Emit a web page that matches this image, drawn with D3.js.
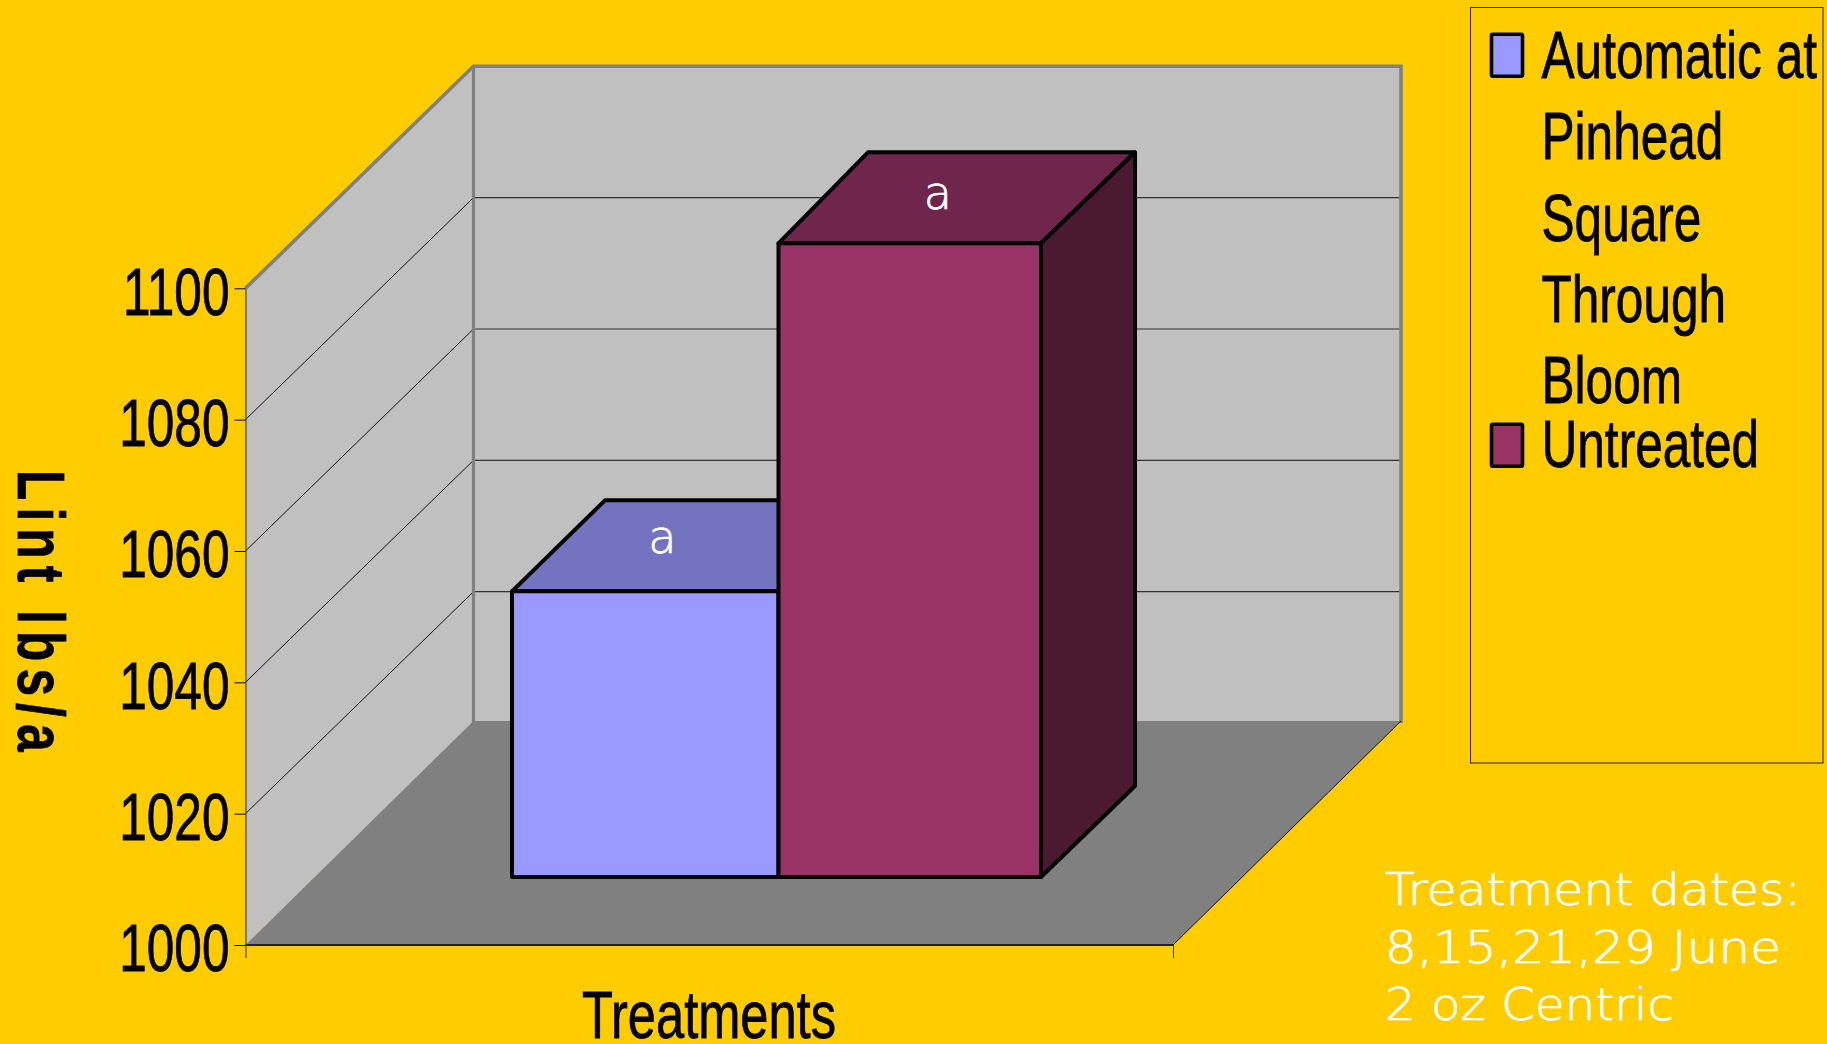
<!DOCTYPE html>
<html>
<head>
<meta charset="utf-8">
<script src="https://cdn.jsdelivr.net/npm/d3@7/dist/d3.min.js"></script>
<style>
  html, body { margin: 0; padding: 0; background: #FFCC00; overflow: hidden; }
  svg { display: block; }
</style>
</head>
<body>
<script>
// Lint yield by treatment
const categories = ["Automatic at Pinhead Square Through Bloom", "Untreated"];
const values = [1043.5, 1096.5];
const sigLetters = ["a", "a"];
const yTicks = [1000, 1020, 1040, 1060, 1080, 1100];
const legendLines = [["Automatic at", "Pinhead", "Square", "Through", "Bloom"], ["Untreated"]];
const noteLines = ["Treatment dates:", "8,15,21,29 June", "2 oz Centric"];
const frontColors = ["#9999FF", "#993366"];
const topColors = ["#7373BF", "#70264C"];
const sideColors = ["#4C1933", "#4C1933"];

const W = 1827, H = 1044;
const svg = d3.select("body").append("svg").attr("width", W).attr("height", H);
svg.append("rect").attr("width", W).attr("height", H).attr("fill", "#FFCC00");

// Oblique projection: the back wall sits up and to the right of the front plane
const y = d3.scaleLinear().domain([1000, 1100]).range([945, 288.3]);
const floorX = d3.scaleLinear().domain([0, 1]).range([245.5, 1173]);
const wallDx = 228, wallDy = 222, floorDy = 224;
const barOffsetY = 68, barDy = 91;
const barEdge = d3.scaleLinear().domain([0, 1, 2]).range([512, 778.5, 1041]);
const barBack = d3.scaleLinear().domain([0, 1, 2]).range([605, 868, 1135]);
const labelShift = [17, 28];
const labelRise = [38.5, 34];

const SANS = "'Liberation Sans', Arial, sans-serif";
const poly = pts => pts.map(p => p.join(",")).join(" ");
const x0 = floorX(0), x1 = floorX(1);
const yMin = y(1000), yMax = y(1100);

// Chart walls and floor
svg.append("polygon")
  .attr("points", poly([[x0, yMin], [x0 + wallDx, yMin - wallDy], [x0 + wallDx, yMax - wallDy], [x0, yMax]]))
  .attr("fill", "#C0C0C0");
svg.append("polygon")
  .attr("points", poly([[x0 + wallDx, yMin - wallDy], [x1 + wallDx, yMin - wallDy], [x1 + wallDx, yMax - wallDy], [x0 + wallDx, yMax - wallDy]]))
  .attr("fill", "#C0C0C0");

// Gridlines run along the side wall and then across the back wall
const inner = yTicks.slice(1, -1);
svg.append("g").selectAll("line").data(inner).join("line")
  .attr("x1", x0).attr("y1", d => y(d))
  .attr("x2", x0 + wallDx).attr("y2", d => y(d) - wallDy)
  .attr("stroke", "#111").attr("stroke-width", 1);
svg.append("g").selectAll("line").data(inner).join("line")
  .attr("x1", x0 + wallDx).attr("y1", d => y(d) - wallDy)
  .attr("x2", x1 + wallDx).attr("y2", d => y(d) - wallDy)
  .attr("stroke", "#333").attr("stroke-width", 1.2);

// Wall outline
svg.append("polyline")
  .attr("points", poly([[x0, yMax], [x0 + wallDx, yMax - wallDy], [x1 + wallDx, yMax - wallDy], [x1 + wallDx, yMin - wallDy]]))
  .attr("fill", "none").attr("stroke", "#808080").attr("stroke-width", 3.6);
svg.append("line")
  .attr("x1", x0 + wallDx).attr("y1", yMax - wallDy)
  .attr("x2", x0 + wallDx).attr("y2", yMin - wallDy)
  .attr("stroke", "#808080").attr("stroke-width", 3.2);

// Floor and its edges
svg.append("polygon")
  .attr("points", poly([[x0, yMin], [x1, yMin], [x1 + wallDx, yMin - floorDy], [x0 + wallDx, yMin - floorDy]]))
  .attr("fill", "#808080");
svg.append("line").attr("x1", x0).attr("y1", yMin).attr("x2", x1).attr("y2", yMin)
  .attr("stroke", "#222").attr("stroke-width", 2);
svg.append("line").attr("x1", x1).attr("y1", yMin).attr("x2", x1 + wallDx).attr("y2", yMin - floorDy)
  .attr("stroke", "#111").attr("stroke-width", 1);

// Value axis
const axis = d3.axisLeft(y).tickValues(yTicks).tickSize(11).tickSizeOuter(0).tickFormat(d3.format("d"));
const axisG = svg.append("g").attr("transform", `translate(${x0},0)`).call(axis);
axisG.select(".domain").attr("stroke", "#333").attr("stroke-width", 1);
axisG.selectAll(".tick line").attr("stroke", "#000").attr("stroke-width", 1);
axisG.selectAll(".tick text")
  .attr("x", 0).attr("dy", 0).attr("y", 0)
  .attr("text-anchor", "end")
  .attr("transform", "translate(-16,25.8) scale(0.74,1)")
  .attr("font-family", SANS).attr("font-size", 67)
  .attr("fill", "#000").attr("stroke", "#000").attr("stroke-width", 0.8);

// Category axis ticks drop below the floor corners
const xAxis = d3.axisBottom(floorX).tickValues([0, 1]).tickSize(13).tickSizeOuter(0).tickFormat("");
const xAxisG = svg.append("g").attr("transform", `translate(0,${yMin})`).call(xAxis);
xAxisG.select(".domain").attr("stroke", "none");
xAxisG.selectAll(".tick line").attr("stroke", "#333").attr("stroke-width", 1);

// Bars, drawn back to front so the taller box overlaps the shorter one
const barData = values.map((v, i) => ({ v, i }));
const bars = svg.append("g").selectAll("g").data(barData).join("g")
  .attr("stroke", "#000").attr("stroke-width", 4).attr("stroke-linejoin", "round");
const bottom = yMin - barOffsetY;
const barTop = v => y(v) - barOffsetY;
bars.append("polygon")
  .attr("points", d => poly([[barEdge(d.i), barTop(d.v)], [barEdge(d.i + 1), barTop(d.v)], [barBack(d.i + 1), barTop(d.v) - barDy], [barBack(d.i), barTop(d.v) - barDy]]))
  .attr("fill", d => topColors[d.i]);
bars.append("polygon")
  .attr("points", d => poly([[barEdge(d.i + 1), barTop(d.v)], [barBack(d.i + 1), barTop(d.v) - barDy], [barBack(d.i + 1), bottom - barDy], [barEdge(d.i + 1), bottom]]))
  .attr("fill", d => sideColors[d.i]);
bars.append("rect")
  .attr("x", d => barEdge(d.i)).attr("y", d => barTop(d.v))
  .attr("width", d => barEdge(d.i + 1) - barEdge(d.i))
  .attr("height", d => bottom - barTop(d.v))
  .attr("fill", d => frontColors[d.i]);

// Significance letters on the box tops
const LIGHT = "'DejaVu Sans', Verdana, sans-serif";
svg.append("g").selectAll("text").data(barData).join("text")
  .attr("x", d => (barEdge(d.i) + barEdge(d.i + 1)) / 2 + labelShift[d.i])
  .attr("y", d => barTop(d.v) - labelRise[d.i])
  .attr("text-anchor", "middle")
  .attr("font-family", LIGHT).attr("font-weight", 200).attr("font-size", 46)
  .attr("fill", "#fff").attr("stroke", "#fff").attr("stroke-width", 0.7)
  .text(d => sigLetters[d.i]);

// Axis titles
svg.append("text")
  .attr("transform", "translate(582,1037.5) scale(0.755,1)")
  .attr("font-family", SANS).attr("font-size", 67)
  .attr("fill", "#000").attr("stroke", "#000").attr("stroke-width", 0.8)
  .text("Treatments");
svg.append("text")
  .attr("transform", "translate(18,470) rotate(90) scale(0.74,1)")
  .attr("font-family", SANS).attr("font-weight", 700).attr("font-size", 67)
  .attr("letter-spacing", 9.6).style("font-kerning", "none")
  .attr("fill", "#000").attr("stroke", "#000").attr("stroke-width", 0.8)
  .text("Lint lbs/a");

// Legend
svg.append("rect")
  .attr("x", 1470.5).attr("y", 7.5).attr("width", 352.5).attr("height", 755.5)
  .attr("fill", "none").attr("stroke", "#222").attr("stroke-width", 1);
const swatchTop = [32.7, 422.7];
svg.append("g").selectAll("rect").data(categories).join("rect")
  .attr("x", 1491.5).attr("y", (d, i) => swatchTop[i] + 1.5)
  .attr("width", 31).attr("height", 42)
  .attr("rx", 1.5)
  .attr("fill", (d, i) => frontColors[i])
  .attr("stroke", "#000").attr("stroke-width", 3.6);
const legendBaselines = [[78.3, 159.3, 240.7, 322.3, 403.3], [466.7]];
legendLines.forEach((lines, i) => {
  lines.forEach((line, j) => {
    svg.append("text")
      .attr("transform", `translate(1541.5,${legendBaselines[i][j]}) scale(0.74,1)`)
      .attr("font-family", SANS).attr("font-size", 67)
      .attr("fill", "#000").attr("stroke", "#000").attr("stroke-width", 0.8)
      .text(line);
  });
});

// Treatment note
const noteWidths = [416, 396, 289];
svg.append("g").selectAll("text").data(noteLines).join("text")
  .attr("x", 1385).attr("y", (d, i) => 905 + i * 57.5)
  .attr("font-family", LIGHT).attr("font-weight", 200).attr("font-size", 45)
  .attr("fill", "#fff").attr("stroke", "#fff").attr("stroke-width", 0.7)
  .attr("textLength", (d, i) => noteWidths[i]).attr("lengthAdjust", "spacingAndGlyphs")
  .text(d => d);
</script>
</body>
</html>
